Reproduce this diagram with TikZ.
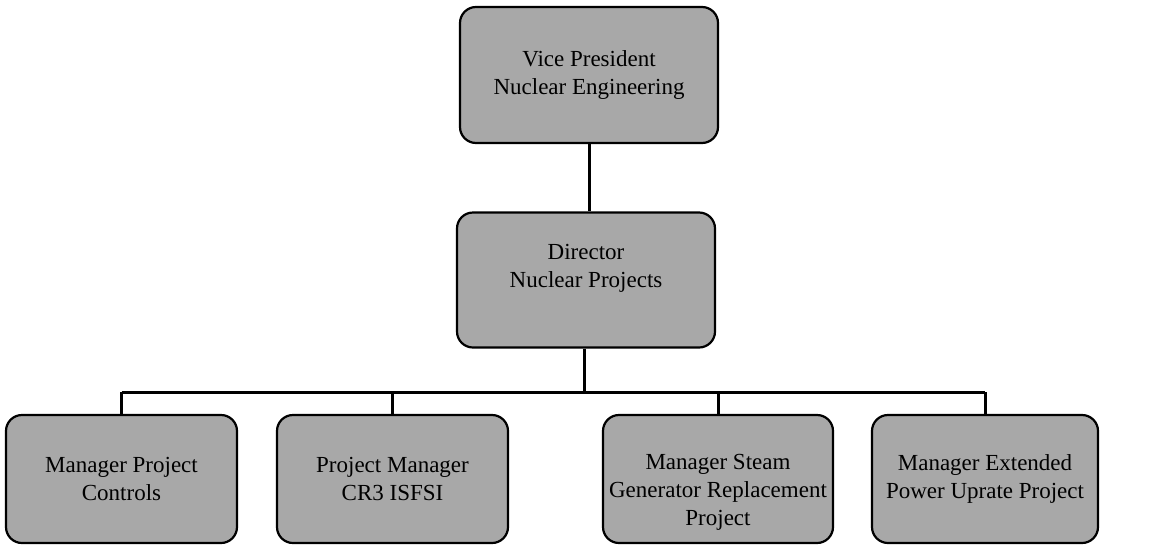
\documentclass[tikz,border=0pt]{standalone}
\usepackage{fontspec}
\setmainfont{Liberation Serif}
\newcommand{\shiftlines}[2]{\raisebox{#1}[\height][\depth]{\renewcommand{\arraystretch}{1}\setlength{\tabcolsep}{0pt}\begin{tabular}{c}#2\end{tabular}}}
\begin{document}
\begin{tikzpicture}[x=1pt,y=-1pt,
  orgbox/.style={draw=black, line width=2.2pt, rounded corners=16pt, fill={rgb,255:red,168;green,168;blue,168},
    align=center, inner sep=4pt, font=\fontsize{23}{28}\selectfont},
  link/.style={draw=black, line width=3pt}]
\useasboundingbox (0,0) rectangle (1155,544);
\node[orgbox, minimum width=258pt, minimum height=136pt] (vp) at (589,75) {Vice President\\Nuclear Engineering};
\node[orgbox, minimum width=258pt, minimum height=135pt] (dir) at (586,280) {\shiftlines{12pt}{Director\\Nuclear Projects}};
\node[orgbox, minimum width=231pt, minimum height=128pt] (b1) at (121.5,479) {Manager Project\\Controls};
\node[orgbox, minimum width=231pt, minimum height=128pt] (b2) at (392.5,479) {Project Manager\\CR3 ISFSI};
\node[orgbox, minimum width=230pt, minimum height=128pt] (b3) at (718,479) {\shiftlines{-13pt}{Manager Steam\\Generator Replacement\\Project}};
\node[orgbox, minimum width=226pt, minimum height=128pt] (b4) at (985,479) {Manager Extended\\Power Uprate Project};
\coordinate (bus) at (584,392);
\draw[link] (vp.south) -- (vp.south |- dir.north);
\draw[link] (bus |- dir.south) -- (bus);
\draw[link] (b1.north |- bus) -- (b4.north |- bus);
\draw[link] (b1.north |- bus) -- (b1.north);
\draw[link] (b2.north |- bus) -- (b2.north);
\draw[link] (b3.north |- bus) -- (b3.north);
\draw[link] (b4.north |- bus) -- (b4.north);
\end{tikzpicture}
\end{document}
